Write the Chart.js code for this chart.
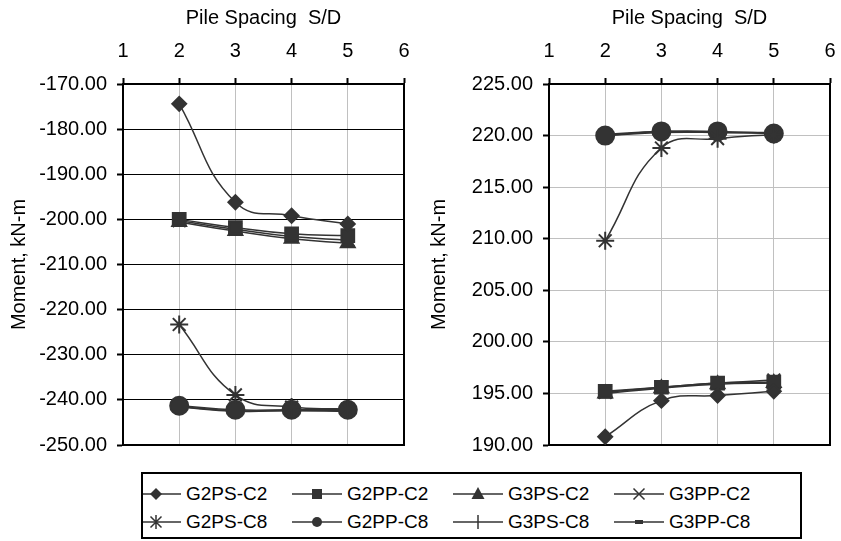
<!DOCTYPE html>
<html>
<head>
<meta charset="utf-8">
<script src="https://cdn.jsdelivr.net/npm/chart.js@4.4.0/dist/chart.umd.min.js"></script>
<style>
  body { margin: 0; background: #fff; width: 841px; height: 541px; position: relative; overflow: hidden;
         font-family: "Liberation Sans", Arial, sans-serif; }
  #leftWrap { position: absolute; left: 0; top: 0; width: 420px; height: 467px; }
  #rightWrap { position: absolute; left: 420px; top: 0; width: 421px; height: 467px; }
  #legend { position: absolute; left: 141px; top: 472px; width: 657px; height: 63px; border: 2px solid #000; overflow: hidden; }
  .item { position: absolute; height: 24px; display: flex; align-items: center; font-size: 19px; color: #000; white-space: nowrap; }
  .item svg { margin-right: 5px; }
</style>
</head>
<body>
<div id="leftWrap"><canvas id="leftChart"></canvas></div>
<div id="rightWrap"><canvas id="rightChart"></canvas></div>
<div id="legend"></div>
<script>
// Data
const spacing = [2, 3, 4, 5];
const seriesNames = ["G2PS-C2", "G2PP-C2", "G3PS-C2", "G3PP-C2", "G2PS-C8", "G2PP-C8", "G3PS-C8", "G3PP-C8"];
const leftMoment = [
  [-174.4, -196.2, -199.2, -201.0],
  [-200.0, -201.8, -203.2, -203.6],
  [-200.6, -202.6, -204.3, -205.3],
  [-200.3, -202.2, -203.8, -204.6],
  [-223.3, -238.9, -241.6, -242.0],
  [-241.3, -242.2, -242.2, -242.2],
  [-241.5, -242.4, -242.3, -242.4],
  [-241.6, -242.5, -242.4, -242.5]
];
const rightMoment = [
  [190.8, 194.3, 194.8, 195.2],
  [195.2, 195.6, 196.0, 196.1],
  [195.0, 195.5, 195.9, 196.0],
  [195.1, 195.6, 196.0, 196.3],
  [209.8, 218.8, 219.7, 220.1],
  [220.0, 220.4, 220.4, 220.2],
  [220.0, 220.3, 220.3, 220.2],
  [220.1, 220.4, 220.3, 220.3]
];
const xTitle = "Pile Spacing  S/D";
const yTitle = "Moment, kN-m";

// marker look per series
const markers = ['rectRot', 'rect', 'triangle', 'crossRot', 'star', 'circle', 'cross', 'line'];
const markerSize = [7, 9, 8, 9, 9, 9, 8, 6];
const ink = '#333333';
const FONT = '"Liberation Sans", Arial, sans-serif';

const frame = {
  id: 'frame',
  beforeDatasetsDraw(chart) {
    const ctx = chart.ctx;
    const a = chart.chartArea;
    ctx.save();
    ctx.strokeStyle = '#000';
    ctx.lineWidth = 2;
    ctx.beginPath();
    ctx.moveTo(a.right, a.top - 1);
    ctx.lineTo(a.right, a.bottom);
    ctx.lineTo(a.left - 1, a.bottom);
    ctx.stroke();
    ctx.restore();
  }
};

const makeChart = (id, values, yMin, yMax, yStep, yGrid, axisWidth, padRight) => {
  const datasets = values.map((vals, i) => ({
    label: seriesNames[i],
    data: spacing.map((s, j) => ({ x: s, y: vals[j] })),
    borderColor: ink,
    borderWidth: 1.5,
    tension: 0.45,
    pointStyle: markers[i],
    pointRadius: markerSize[i],
    pointBackgroundColor: ink,
    pointBorderColor: ink,
    pointBorderWidth: 2,
    clip: false
  }));
  return new Chart(document.getElementById(id), {
    type: 'line',
    data: { datasets },
    options: {
      responsive: true,
      maintainAspectRatio: false,
      animation: false,
      layout: { padding: { right: padRight, bottom: 15, top: 0, left: 0 } },
      plugins: { legend: { display: false }, tooltip: { enabled: false } },
      scales: {
        x: {
          type: 'linear',
          position: 'top',
          min: 1, max: 6,
          ticks: { stepSize: 1, color: '#000', font: { family: FONT, size: 20 }, padding: 15 },
          grid: { color: '#c0c0c0', lineWidth: 1, tickColor: '#000', tickLength: 6, tickWidth: 2 },
          border: { color: '#000', width: 2 },
          title: { display: true, text: xTitle, color: '#000', font: { family: FONT, size: 20 }, padding: { top: 6, bottom: 0 } },
          afterFit: (scale) => { scale.height = 84; scale.paddingRight = 0; scale.paddingLeft = 0; }
        },
        y: {
          min: yMin, max: yMax,
          ticks: { stepSize: yStep, color: '#000', font: { family: FONT, size: 20 }, padding: 10,
                   callback: (v) => v.toFixed(2) },
          grid: { color: yGrid, lineWidth: 1, tickColor: '#000', tickLength: 6, tickWidth: 2 },
          border: { color: '#000', width: 2 },
          title: { display: true, text: yTitle, color: '#000', font: { family: FONT, size: 20 }, padding: { top: 7, bottom: 0 } },
          afterFit: (scale) => { scale.width = axisWidth; }
        }
      }
    },
    plugins: [frame]
  });
};

makeChart('leftChart', leftMoment, -250, -170, 10, '#000', 123, 16);
makeChart('rightChart', rightMoment, 190, 225, 5, '#c0c0c0', 129, 11);

// legend icons
const icon = (style) => {
  let m = '';
  if (style === 'rectRot') m = '<polygon points="25,4 31,10 25,16 19,10" fill="#333"/>';
  if (style === 'rect') m = '<rect x="20" y="5" width="10" height="10" fill="#333"/>';
  if (style === 'triangle') m = '<polygon points="25,3 31.5,15 18.5,15" fill="#333"/>';
  if (style === 'crossRot') m = '<path d="M19.5,4.5 L30.5,15.5 M30.5,4.5 L19.5,15.5" stroke="#333" stroke-width="1.5"/>';
  if (style === 'star') m = '<path d="M19.5,4.5 L30.5,15.5 M30.5,4.5 L19.5,15.5 M25,3 L25,17" stroke="#333" stroke-width="1.5"/>';
  if (style === 'circle') m = '<circle cx="25" cy="10" r="5" fill="#333"/>';
  if (style === 'cross') m = '<path d="M25,3 L25,17" stroke="#333" stroke-width="1.5"/>';
  if (style === 'line') m = '<rect x="21" y="8" width="8" height="4" fill="#333"/>';
  return '<svg width="50" height="20"><line x1="0" y1="10" x2="50" y2="10" stroke="#333" stroke-width="1.5"/>' + m + '</svg>';
};
const legend = document.getElementById('legend');
seriesNames.forEach((name, i) => {
  const col = i % 4, row = Math.floor(i / 4);
  const el = document.createElement('div');
  el.className = 'item';
  el.style.left = (-12 + col * 161) + 'px';
  el.style.top = (8 + row * 28) + 'px';
  el.innerHTML = icon(markers[i]) + '<span>' + name + '</span>';
  legend.appendChild(el);
});
</script>
</body>
</html>
